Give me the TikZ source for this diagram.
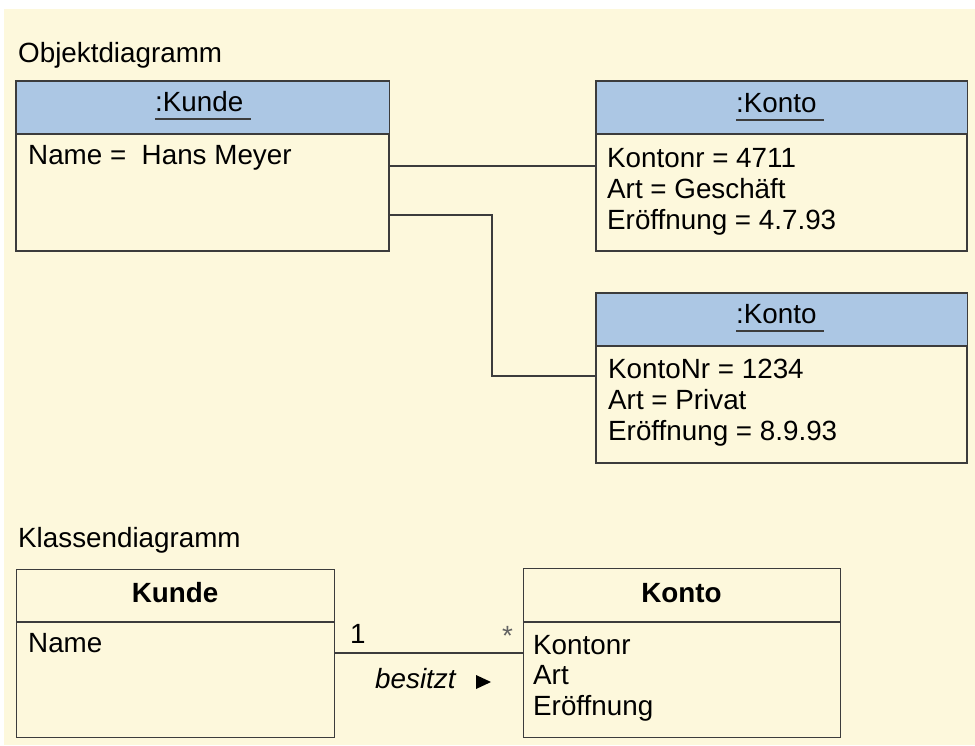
\documentclass[tikz,border=0pt]{standalone}
\usepackage{fontspec}
\setmainfont{Liberation Sans}
\begin{document}
\definecolor{creme}{RGB}{253,248,220}
\definecolor{kopfblau}{RGB}{172,199,228}
\definecolor{rahmen}{RGB}{60,60,60}
\begin{tikzpicture}[x=1pt,y=-1pt,
  font=\fontsize{27.8}{31}\selectfont,
  umlrahmen/.style={draw=rahmen,line width=1.3pt,fill=creme,rectangle,inner sep=0pt,anchor=north west},
  trenn/.style={draw=rahmen,line width=1.3pt},
  verbindung/.style={draw=rahmen,line width=1.3pt},
  txt/.style={inner sep=0pt,anchor=base west,text=black},
  ctxt/.style={inner sep=0pt,anchor=base,text=black},
  unterstrich/.style={draw=rahmen,line width=1.2pt}]
\useasboundingbox (0,0) rectangle (975,745);
\fill[white] (0,0) rectangle (975,745);
\fill[creme] (4,9) rectangle (975,745);

% ---------- Objektdiagramm ----------
\node[txt] (titelObj) at (18,62) {Objektdiagramm};

\node[umlrahmen,minimum width=372pt,minimum height=169pt] (kunde) at (16,81) {};
\fill[kopfblau] (kunde.north west) rectangle ([yshift=-53pt]kunde.north east);
\draw[trenn] ([yshift=-53pt]kunde.north west) -- ([yshift=-53pt]kunde.north east);
\draw[draw=rahmen,line width=1.3pt] (kunde.north west) rectangle (kunde.south east);
\node[txt] (kundeName) at (155,111) {:Kunde};
\draw[unterstrich] ([yshift=-8pt]kundeName.base west) -- ([xshift=7pt,yshift=-8pt]kundeName.base east);
\node[txt] (kundeAttr) at (28,164) {Name =\ \ Hans Meyer};

\node[umlrahmen,minimum width=370pt,minimum height=169pt] (konto1) at (596,81) {};
\fill[kopfblau] (konto1.north west) rectangle ([yshift=-53pt]konto1.north east);
\draw[trenn] ([yshift=-53pt]konto1.north west) -- ([yshift=-53pt]konto1.north east);
\draw[draw=rahmen,line width=1.3pt] (konto1.north west) rectangle (konto1.south east);
\node[txt] (kontoEinsName) at (736,112) {:Konto};
\draw[unterstrich] ([yshift=-8pt]kontoEinsName.base west) -- ([xshift=7pt,yshift=-8pt]kontoEinsName.base east);
\node[txt] (k1a) at (607,167) {Kontonr = 4711};
\node[txt] (k1b) at (607,198) {Art = Geschäft};
\node[txt] (k1c) at (607,229) {Eröffnung = 4.7.93};

\node[umlrahmen,minimum width=370pt,minimum height=169pt] (konto2) at (596,293) {};
\fill[kopfblau] (konto2.north west) rectangle ([yshift=-53pt]konto2.north east);
\draw[trenn] ([yshift=-53pt]konto2.north west) -- ([yshift=-53pt]konto2.north east);
\draw[draw=rahmen,line width=1.3pt] (konto2.north west) rectangle (konto2.south east);
\node[txt] (kontoZweiName) at (736,323) {:Konto};
\draw[unterstrich] ([yshift=-8pt]kontoZweiName.base west) -- ([xshift=7pt,yshift=-8pt]kontoZweiName.base east);
\node[txt] (k2a) at (608,378) {KontoNr = 1234};
\node[txt] (k2b) at (608,409) {Art = Privat};
\node[txt] (k2c) at (608,440) {Eröffnung = 8.9.93};

% Links zwischen den Objekten
\coordinate (linkEins) at (0,166);
\coordinate (linkZweiA) at (0,215);
\coordinate (linkZweiKnick) at (492,376);
\draw[verbindung] (kunde.east |- linkEins) -- (konto1.west |- linkEins);
\draw[verbindung] (kunde.east |- linkZweiA) -| (linkZweiKnick) -- (konto2.west |- linkZweiKnick);

% ---------- Klassendiagramm ----------
\node[txt] (titelKlasse) at (18,547) {Klassendiagramm};

\node[umlrahmen,minimum width=318pt,minimum height=168pt] (kundeKl) at (16,569) {};
\draw[trenn] ([yshift=-53pt]kundeKl.north west) -- ([yshift=-53pt]kundeKl.north east);
\node[ctxt,font=\fontsize{27.8}{31}\selectfont\bfseries] (kundeKlName) at (175,602) {Kunde};
\node[txt] (kundeKlAttr) at (28,652) {Name};

\node[umlrahmen,minimum width=317pt,minimum height=169pt] (kontoKl) at (523,568) {};
\draw[trenn] ([yshift=-54pt]kontoKl.north west) -- ([yshift=-54pt]kontoKl.north east);
\node[ctxt,font=\fontsize{27.8}{31}\selectfont\bfseries] (kontoKlName) at (681.5,602) {Konto};
\node[txt] (kka) at (533,654) {Kontonr};
\node[txt] (kkb) at (533,684) {Art};
\node[txt] (kkc) at (533,715) {Eröffnung};

% Assoziation
\coordinate (assoz) at (0,653);
\draw[verbindung] (kundeKl.east |- assoz) -- (kontoKl.west |- assoz);
\node[txt] (multEins) at (350,643) {1};
\node[txt,text=rahmen!80] (multViele) at (502,645) {*};
\node[txt,font=\fontsize{27.8}{31}\selectfont\itshape] (assozName) at (375,688) {besitzt};
\fill[black] (476,675) -- (491,682) -- (476,689) -- cycle;
\end{tikzpicture}
\end{document}
